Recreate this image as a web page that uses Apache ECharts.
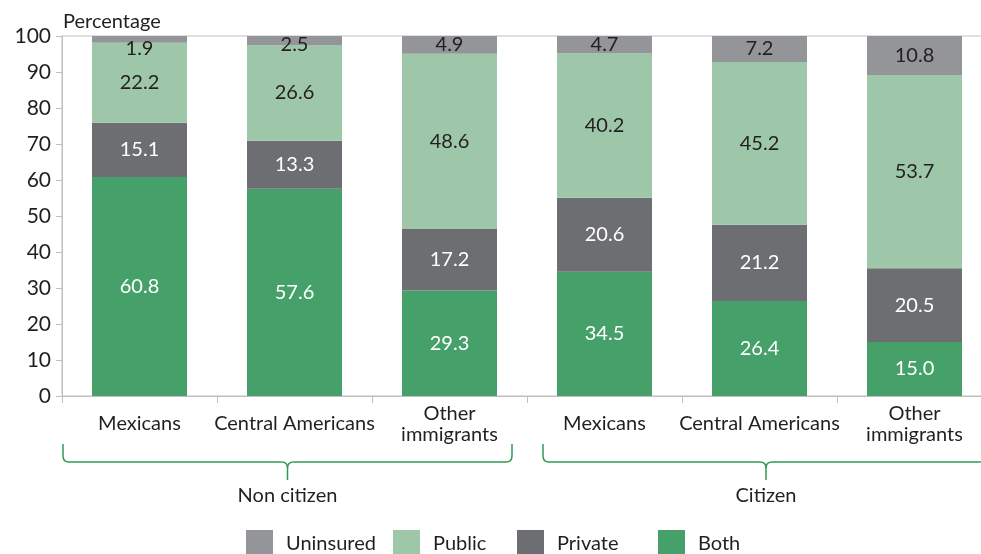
<!DOCTYPE html>
<html>
<head>
<meta charset="utf-8">
<script src="https://cdn.jsdelivr.net/npm/echarts@6/dist/echarts.min.js"></script>
<style>
html,body{margin:0;padding:0;background:#fff;}
#chart{width:981px;height:554px;}
</style>
</head>
<body>
<div id="chart"></div>
<script>
// ---- data ----
var categories = ['Mexicans', 'Central Americans', 'Other\nimmigrants', 'Mexicans', 'Central Americans', 'Other\nimmigrants'];
var groups = ['Non citizen', 'Citizen'];
var groupSizes = [3, 3];
var both = [60.8, 57.6, 29.3, 34.5, 26.4, 15.0];
var privateIns = [15.1, 13.3, 17.2, 20.6, 21.2, 20.5];
var publicIns = [22.2, 26.6, 48.6, 40.2, 45.2, 53.7];
var uninsured = [1.9, 2.5, 4.9, 4.7, 7.2, 10.8];
var seriesNames = ['Uninsured', 'Public', 'Private', 'Both'];
var yTicks = [0, 10, 20, 30, 40, 50, 60, 70, 80, 90, 100];

var FONT = 'Lato';
var FS = 20;
var colors = {Uninsured: '#939598', Public: '#9dc7a8', Private: '#6d6e71', Both: '#45a06a'};
var dark = '#231f20';
var legendLefts = [246, 393, 517, 658];

function mkSeries(name, values, labelColor, nudge) {
  return {
    name: name,
    type: 'bar',
    stack: 'total',
    barWidth: 95,
    itemStyle: {color: colors[name]},
    label: {
      show: true,
      position: 'inside',
      color: labelColor,
      fontFamily: FONT,
      fontSize: FS,
      formatter: function (p) { return p.value.toFixed(1); }
    },
    data: values.map(function (v, i) {
      var d = {value: v};
      if (nudge && nudge[i]) d.label = {offset: [0, nudge[i]]};
      return d;
    })
  };
}

var legends = seriesNames.map(function (name, i) {
  return {
    bottom: -3, left: legendLefts[i],
    padding: 0,
    itemWidth: 27, itemHeight: 27,
    icon: 'rect',
    data: [name],
    textStyle: {fontFamily: FONT, fontSize: FS, color: dark, padding: [0, 0, 0, 8]}
  };
});

var chart = echarts.init(document.getElementById('chart'), null, {renderer: 'canvas'});
var option = {
  animation: false,
  backgroundColor: '#fff',
  textStyle: {fontFamily: FONT},
  title: {
    text: 'Percentage',
    left: 58, top: 7,
    textStyle: {fontFamily: FONT, fontSize: FS, fontWeight: 'normal', color: dark}
  },
  grid: {
    left: 62, right: -11, top: 36, bottom: 158,
    outerBoundsMode: 'none',
    containLabel: false,
    show: true, borderColor: '#bfbfbf', borderWidth: 1, backgroundColor: 'transparent'
  },
  legend: legends,
  xAxis: {
    type: 'category',
    data: categories,
    axisLine: {lineStyle: {color: '#bfbfbf'}},
    axisTick: {show: true, length: 7, lineStyle: {color: '#bfbfbf'}},
    axisLabel: {
      interval: 0, fontFamily: FONT, fontSize: FS, color: dark,
      verticalAlign: 'middle', margin: 28, lineHeight: 21
    }
  },
  yAxis: {
    type: 'value',
    min: yTicks[0], max: yTicks[yTicks.length - 1], interval: 10,
    axisLine: {show: true, lineStyle: {color: '#bfbfbf'}},
    axisTick: {show: true, length: 6, lineStyle: {color: '#bfbfbf'}},
    splitLine: {show: false},
    axisLabel: {fontFamily: FONT, fontSize: 21, color: dark, margin: 11}
  },
  series: [
    mkSeries('Both', both, '#ffffff'),
    mkSeries('Private', privateIns, '#ffffff'),
    mkSeries('Public', publicIns, dark),
    mkSeries('Uninsured', uninsured, dark, [9, 4.5, 0, 0, 0, 0])
  ]
};
chart.setOption(option);

// ---- group brackets computed from the axis ----
function drawBrackets() {
  var c0 = chart.convertToPixel({xAxisIndex: 0}, 0);
  var c1 = chart.convertToPixel({xAxisIndex: 0}, 1);
  var band = c1 - c0;
  var yTop = 444, yH = 462, yTip = 480, r = 6;
  var insets = [[1, 15], [16, 3]];
  var stroke = {stroke: '#2f9a52', lineWidth: 1.5, fill: null};
  var elems = [];
  var start = 0;
  function line(x1, y1, x2, y2) {
    elems.push({type: 'line', shape: {x1: x1, y1: y1, x2: x2, y2: y2}, style: stroke});
  }
  function curve(x1, y1, cx, cy, x2, y2) {
    elems.push({type: 'bezierCurve', shape: {x1: x1, y1: y1, cpx1: cx, cpy1: cy, x2: x2, y2: y2}, style: stroke});
  }
  groups.forEach(function (g, gi) {
    var n = groupSizes[gi];
    var left = chart.convertToPixel({xAxisIndex: 0}, start) - band / 2 + insets[gi][0];
    var right = chart.convertToPixel({xAxisIndex: 0}, start + n - 1) + band / 2 - insets[gi][1];
    var mid = (left + right) / 2;
    line(left, yTop, left, yH - r);
    curve(left, yH - r, left, yH, left + r, yH);
    line(left + r, yH, mid - r, yH);
    curve(mid - r, yH, mid, yH, mid, yH + r);
    curve(mid + r, yH, mid, yH, mid, yH + r);
    line(mid, yH + r, mid, yTip);
    line(mid + r, yH, right - r, yH);
    curve(right - r, yH, right, yH, right, yH - r);
    line(right, yH - r, right, yTop);
    elems.push({
      type: 'text',
      x: mid, y: 496,
      style: {text: g, fontFamily: FONT, fontSize: FS, fill: dark, align: 'center', verticalAlign: 'middle'}
    });
    start += n;
  });
  chart.setOption({graphic: elems});
}
drawBrackets();
</script>
</body>
</html>
